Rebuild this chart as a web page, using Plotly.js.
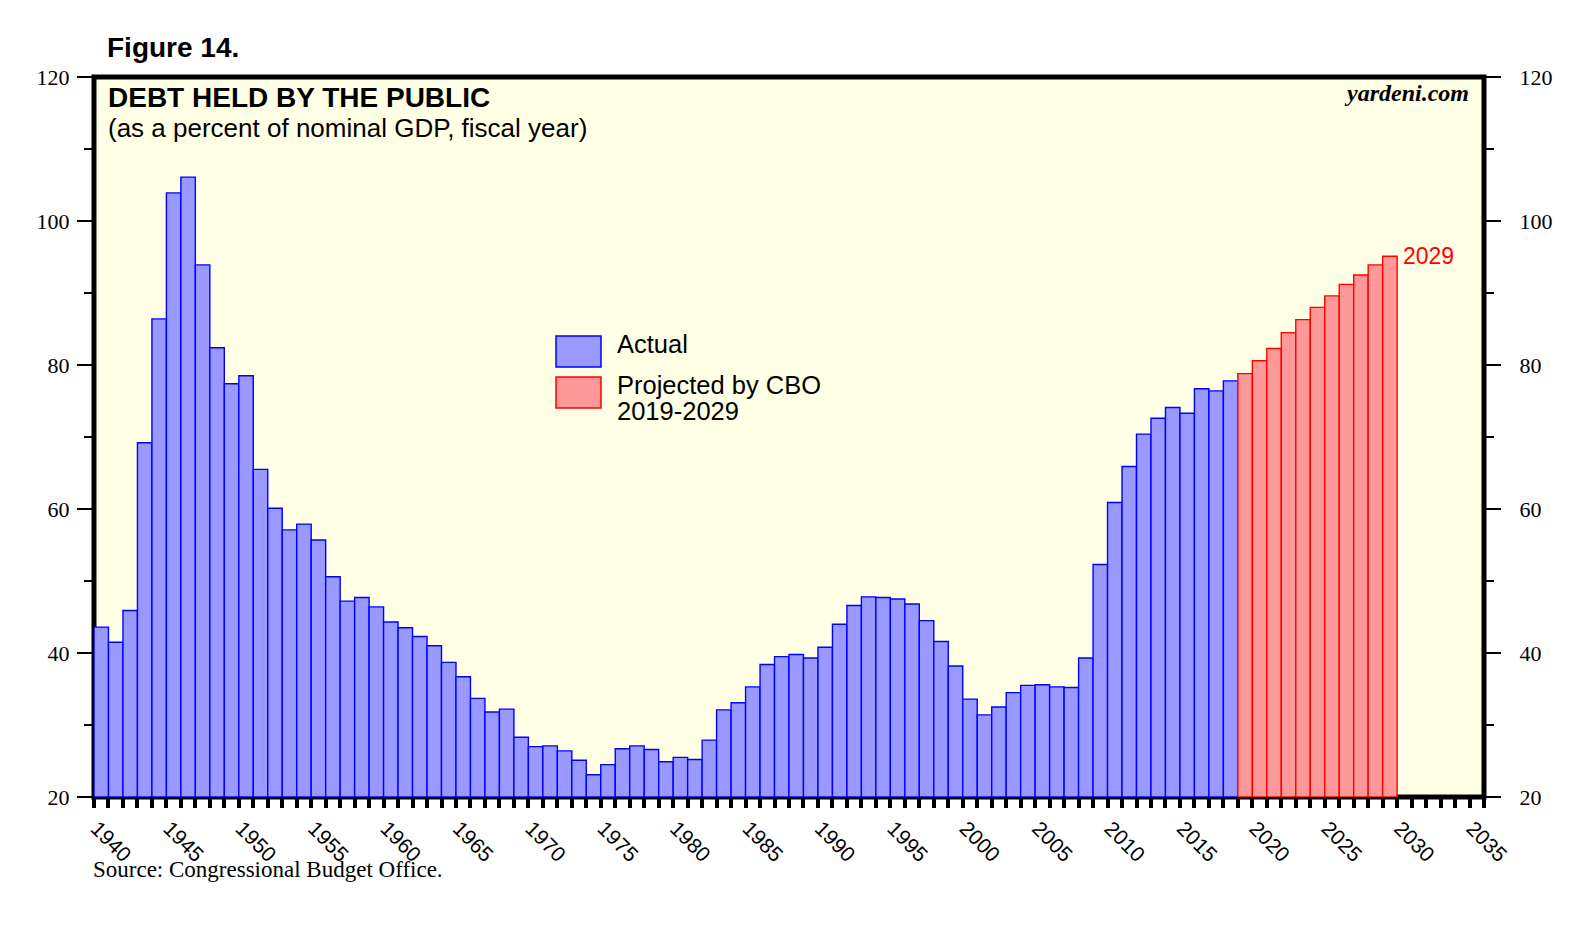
<!DOCTYPE html>
<html>
<head>
<meta charset="utf-8">
<script src="https://cdn.plot.ly/plotly-3.0.1.min.js"></script>
<style>html,body{margin:0;padding:0;background:#fff;}#chart{width:1573px;height:925px;}</style>
</head>
<body>
<div id="chart"></div>
<script>
// ---- data ----
var actualYears = [1940,1941,1942,1943,1944,1945,1946,1947,1948,1949,
  1950,1951,1952,1953,1954,1955,1956,1957,1958,1959,
  1960,1961,1962,1963,1964,1965,1966,1967,1968,1969,
  1970,1971,1972,1973,1974,1975,1976,1977,1978,1979,
  1980,1981,1982,1983,1984,1985,1986,1987,1988,1989,
  1990,1991,1992,1993,1994,1995,1996,1997,1998,1999,
  2000,2001,2002,2003,2004,2005,2006,2007,2008,2009,
  2010,2011,2012,2013,2014,2015,2016,2017,2018];
var actualValues = [43.6,41.5,45.9,69.2,86.4,103.9,106.1,93.9,82.4,77.4,
  78.5,65.5,60.1,57.1,57.9,55.7,50.6,47.2,47.7,46.4,
  44.3,43.5,42.3,41.0,38.7,36.7,33.7,31.8,32.2,28.3,
  27.0,27.1,26.4,25.1,23.1,24.5,26.7,27.1,26.6,24.9,
  25.5,25.2,27.9,32.1,33.1,35.3,38.4,39.5,39.8,39.3,
  40.8,44.0,46.6,47.8,47.7,47.5,46.8,44.5,41.6,38.2,
  33.6,31.4,32.5,34.5,35.5,35.6,35.3,35.2,39.3,52.3,
  60.9,65.9,70.4,72.6,74.1,73.3,76.7,76.4,77.8];
var projYears = [2019,2020,2021,2022,2023,2024,2025,2026,2027,2028,2029];
var projValues = [78.8,80.6,82.3,84.5,86.3,88.0,89.6,91.2,92.5,93.9,95.1];
var xTickVals = [1940,1945,1950,1955,1960,1965,1970,1975,1980,1985,1990,1995,2000,2005,2010,2015,2020,2025,2030,2035];
var xTickText = ["1940","1945","1950","1955","1960","1965","1970","1975","1980","1985","1990","1995","2000","2005","2010","2015","2020","2025","2030","2035"];
var yTickVals = [20,40,60,80,100,120];
var yTickText = ["20","40","60","80","100","120"];

// ---- layout geometry (pixels) ----
var W = 1573, H = 925;
var L = 94, R = 89, T = 77, B = 128;
var pw = W - L - R, ph = H - T - B;
function px(x){ return (x - L) / pw; }
function py(y){ return (H - B - y) / ph; }

var SANS = "Liberation Sans, Arial, sans-serif";
var SERIF = "Liberation Serif, Times New Roman, serif";

var traces = [
  {type:'bar', x: actualYears, y: actualValues.map(function(v){return v-20;}), base: 20,
   width: 1, offset: 0, name: 'Actual',
   marker:{color:'#9999FF', line:{color:'#0000FF', width:1.4}}, hoverinfo:'x+y'},
  {type:'bar', x: projYears, y: projValues.map(function(v){return v-20;}), base: 20,
   width: 1, offset: 0, name: 'Projected by CBO 2019-2029',
   marker:{color:'#FF9999', line:{color:'#FF0000', width:1.4}}, hoverinfo:'x+y'},
  {type:'scatter', x:[1940], y:[20], yaxis:'y2', mode:'markers', marker:{opacity:0}, showlegend:false, hoverinfo:'skip'}
];

function yAxis(side, standoff){
  return {
    side: side,
    range:[20,120], tickvals:yTickVals, ticktext:yTickText, ticks:'outside', ticklen:16, tickwidth:1.5,
    tickcolor:'#000', showgrid:false, zeroline:false, showline:false, fixedrange:true,
    tickfont:{family:SERIF, size:22, color:'#000'}, ticklabelstandoff:standoff,
    minor:{tickvals:[30,50,70,90,110], ticks:'outside', ticklen:9, tickwidth:1.5, tickcolor:'#000', showgrid:false}
  };
}

var y2 = yAxis('right', 14);
y2.overlaying = 'y';
y2.anchor = 'x';

var layout = {
  width: W, height: H,
  margin:{l:L, r:R, t:T, b:B, pad:0},
  paper_bgcolor:'#FFFFFF', plot_bgcolor:'#FFFFE6',
  showlegend:false, bargap:0,
  xaxis:{range:[1940,2036], tickvals:xTickVals, ticktext:xTickText, tickangle:45,
    ticks:'outside', ticklen:10, tickwidth:4, tickcolor:'#000',
    showgrid:false, zeroline:false, showline:false, fixedrange:true,
    tickfont:{family:SANS, size:21, color:'#000'}, ticklabelshift:3,
    minor:{dtick:1, tick0:1940, ticks:'outside', ticklen:10, tickwidth:4, tickcolor:'#000', showgrid:false}},
  yaxis: yAxis('left', 3),
  yaxis2: y2,
  shapes:[
    {type:'rect', xref:'paper', yref:'paper', x0:0, x1:1, y0:0, y1:1, layer:'below',
     line:{color:'#000', width:5}, fillcolor:'rgba(0,0,0,0)'},
    {type:'rect', xref:'paper', yref:'paper', x0:px(556), x1:px(601), y0:py(367), y1:py(336),
     line:{color:'#0000FF', width:1.5}, fillcolor:'#9999FF'},
    {type:'rect', xref:'paper', yref:'paper', x0:px(556), x1:px(601), y0:py(408), y1:py(377),
     line:{color:'#FF0000', width:1.5}, fillcolor:'#FF9999'}
  ],
  annotations:[
    {text:'<b>Figure 14.</b>', xref:'paper', yref:'paper', x:px(105), y:py(48), xanchor:'left', yanchor:'middle',
     showarrow:false, font:{family:SANS, size:28, color:'#000'}},
    {text:'<b>DEBT HELD BY THE PUBLIC</b>', xref:'paper', yref:'paper', x:px(106), y:py(97), xanchor:'left', yanchor:'middle',
     showarrow:false, font:{family:SANS, size:28, color:'#000'}},
    {text:'(as a percent of nominal GDP, fiscal year)', xref:'paper', yref:'paper', x:px(106), y:py(128), xanchor:'left', yanchor:'middle',
     showarrow:false, font:{family:SANS, size:26, color:'#000'}},
    {text:'<b><i>yardeni.com</i></b>', xref:'paper', yref:'paper', x:px(1471), y:py(93), xanchor:'right', yanchor:'middle',
     showarrow:false, font:{family:SERIF, size:24, color:'#000'}},
    {text:'Actual', xref:'paper', yref:'paper', x:px(615), y:py(344), xanchor:'left', yanchor:'middle',
     showarrow:false, font:{family:SANS, size:25.5, color:'#000'}},
    {text:'Projected by CBO', xref:'paper', yref:'paper', x:px(615), y:py(385), xanchor:'left', yanchor:'middle',
     showarrow:false, font:{family:SANS, size:25.5, color:'#000'}},
    {text:'2019-2029', xref:'paper', yref:'paper', x:px(615), y:py(411), xanchor:'left', yanchor:'middle',
     showarrow:false, font:{family:SANS, size:25.5, color:'#000'}},
    {text:String(projYears[projYears.length-1]), xref:'x', yref:'y', x:projYears[projYears.length-1]+1, y:projValues[projValues.length-1],
     xanchor:'left', yanchor:'middle', xshift:4, showarrow:false, font:{family:SANS, size:23, color:'#FF0000'}},
    {text:'Source: Congressional Budget Office.', xref:'paper', yref:'paper', x:px(91), y:py(869), xanchor:'left', yanchor:'middle',
     showarrow:false, font:{family:SERIF, size:23, color:'#000'}}
  ]
};

Plotly.newPlot('chart', traces, layout, {displayModeBar:false, staticPlot:true});
</script>
</body>
</html>
